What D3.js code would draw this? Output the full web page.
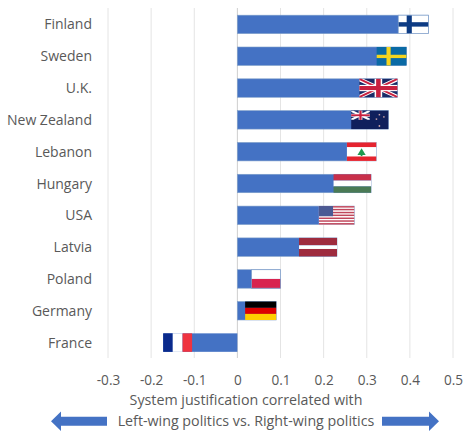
<!DOCTYPE html>
<html><head><meta charset="utf-8">
<script src="https://cdn.jsdelivr.net/npm/d3@7/dist/d3.min.js"></script>
<style>html,body{margin:0;background:#fff;overflow:hidden}svg{display:block}
text{font-family:"Open Sans",sans-serif;fill:#595959}</style></head><body>
<svg id="c" width="474" height="443"></svg>
<script>
const countries=["Finland","Sweden","U.K.","New Zealand","Lebanon","Hungary","USA","Latvia","Poland","Germany","France"];
const values=[0.443,0.392,0.371,0.35,0.322,0.31,0.271,0.231,0.10,0.09,-0.172];
// where the flag image begins on the value axis (France: the flag runs from the bar end to this value)
const flagEdge=[0.373,0.323,0.283,0.264,0.254,0.223,0.189,0.143,0.033,0.018,-0.105];
const flagCodes=["fi","se","uk","nz","lb","hu","us","lv","pl","de","fr"];
const axisTicks=[-0.3,-0.2,-0.1,0,0.1,0.2,0.3,0.4,0.5];
const titleLines=["System justification correlated with","Left-wing politics vs. Right-wing politics"];
const svg=d3.select("#c");
const x=d3.scaleLinear().domain([-0.3,0.5]).range([108,453]);
const y=d3.scaleBand().domain(countries).range([8.5,358.5]).paddingInner(0.42).paddingOuter(0.21);
const blue="#4472c4";

svg.append("g").selectAll("line").data(axisTicks).join("line")
 .attr("x1",d=>x(d)).attr("x2",d=>x(d)).attr("y1",8).attr("y2",358)
 .attr("stroke",d=>d===0?"#cfcfcf":"#e4e4e4").attr("stroke-width",1);

svg.append("g").selectAll("rect").data(countries).join("rect")
 .attr("x",(d,i)=>Math.min(x(0),x(values[i])))
 .attr("width",(d,i)=>Math.abs(x(values[i])-x(0)))
 .attr("y",d=>y(d)).attr("height",y.bandwidth())
 .attr("fill",blue).attr("stroke",(d,i)=>values[i]<0?"none":"#7f9fc9").attr("stroke-width",0.6);

const flags={
 fi(r){r(0,0,1,1,"#fff");r(.28,0,.17,1,"#0d3b84");r(0,.38,1,.24,"#0d3b84");},
 se(r){r(0,0,1,1,"#0a6aa5");r(.33,0,.14,1,"#f4d41f");r(0,.42,1,.18,"#f4d41f");},
 uk(r,p){r(0,0,1,1,"#1a2a66");
  p("0,0 .1,0 1,.86 1,1 .9,1 0,.14","#fff");p("1,0 .9,0 0,.86 0,1 .1,1 1,.14","#fff");
  p("0,0 .05,0 1,.93 1,1 .95,1 0,.07","#c8203f");p("1,0 .95,0 0,.93 0,1 .05,1 1,.07","#c8203f");
  r(.4,0,.2,1,"#fff");r(0,.33,1,.34,"#fff");r(.44,0,.12,1,"#c8203f");r(0,.39,1,.22,"#c8203f");},
 nz(r,p){r(0,0,1,1,"#10205c");r(0,0,.5,.5,"#1a2a66");
  p("0,0 .06,0 .5,.42 .5,.5 .44,.5 0,.08","#fff");p(".5,0 .44,0 0,.42 0,.5 .06,.5 .5,.08","#fff");
  r(.2,0,.1,.5,"#fff");r(0,.17,.5,.16,"#fff");r(.22,0,.06,.5,"#c8203f");r(0,.2,.5,.1,"#c8203f");
  r(.74,.18,.04,.08,"#c9a3a8");r(.86,.3,.04,.08,"#c9a3a8");r(.66,.42,.04,.08,"#c9a3a8");r(.74,.78,.04,.1,"#c9a3a8");},
 lb(r,p){r(0,0,1,1,"#fff");r(0,0,1,.25,"#e5232f");r(0,.76,1,.24,"#e5232f");
  p(".5,.32 .64,.68 .36,.68","#1e9a50");r(.47,.66,.06,.08,"#1e9a50");},
 hu(r){r(0,0,1,.34,"#c8304a");r(0,.34,1,.32,"#fff");r(0,.66,1,.34,"#4a7a55");},
 us(r){r(0,0,1,1,"#fff");
  for(const s of [0,.15,.31,.46,.62,.77,.92])r(0,s,1,.08,"#c0475c");
  r(0,0,.4,.55,"#4a5a94");},
 lv(r){r(0,0,1,.4,"#9e2b3e");r(0,.4,1,.2,"#fff");r(0,.6,1,.4,"#9e2b3e");},
 pl(r){r(0,0,1,.5,"#fff");r(0,.5,1,.5,"#d8234f");},
 de(r){r(0,0,1,.34,"#000");r(0,.34,1,.33,"#dd0000");r(0,.67,1,.33,"#ffce00");},
 fr(r){r(0,0,.33,1,"#0a2a8c");r(.33,0,.34,1,"#fff");r(.67,0,.33,1,"#ef3340");}
};

const flagG=svg.append("g");
flagCodes.forEach((code,i)=>{
 const a=x(Math.min(values[i],flagEdge[i])),b=x(Math.max(values[i],flagEdge[i]));
 const fx=d3.scaleLinear().range([a,b]);
 const fy=d3.scaleLinear().range([y(countries[i]),y(countries[i])+y.bandwidth()]);
 const g=flagG.append("g").attr("data-flag",code);
 const rect=(rx,ry,w,h,c)=>g.append("rect").attr("x",fx(rx)).attr("y",fy(ry))
   .attr("width",fx(rx+w)-fx(rx)).attr("height",fy(ry+h)-fy(ry)).attr("fill",c);
 const poly=(pts,c)=>g.append("polygon").attr("fill",c).attr("points",
   pts.split(" ").map(q=>{const [u,v]=q.split(",").map(Number);return fx(u)+","+fy(v);}).join(" "));
 flags[code](rect,poly);
 if(code==="fi"||code==="pl")g.append("rect").attr("x",a).attr("y",fy(0)).attr("width",b-a)
   .attr("height",fy(1)-fy(0)).attr("fill","none").attr("stroke","#7f9fc9").attr("stroke-width",0.7);
});

svg.append("g").selectAll("text").data(countries).join("text")
 .attr("x",92).attr("y",d=>y(d)+y.bandwidth()/2+5).attr("text-anchor","end")
 .attr("font-size",14).text(d=>d);

const ax=svg.append("g").attr("transform","translate(0,371)")
 .call(d3.axisBottom(x).tickValues(axisTicks).tickSize(0).tickPadding(4).tickFormat(d=>d===0?"0":String(d)));
ax.select(".domain").remove();
ax.selectAll("text").attr("font-size",13.6).attr("font-family",'"Open Sans",sans-serif').attr("fill","#595959");

svg.append("g").selectAll("text").data(titleLines).join("text")
 .attr("x",246).attr("y",(d,i)=>405+i*20.5).attr("text-anchor","middle")
 .attr("font-size",14.25).text(d=>d);

const arrows=[[107,51],[382,439]];
svg.append("g").selectAll("path").data(arrows).join("path").attr("fill",blue)
 .attr("d",([s,t])=>{const k=t>s?-1:1,bx=t+k*10;
  return d3.line()([[s,416.7],[bx,416.7],[bx,411.5],[t,421.2],[bx,431],[bx,425.7],[s,425.7]])+"Z";});
</script></body></html>
